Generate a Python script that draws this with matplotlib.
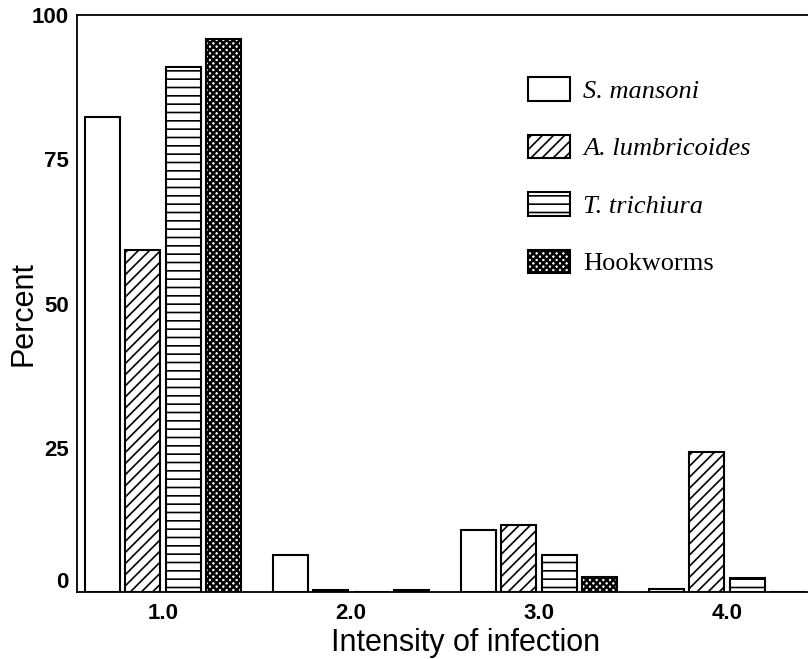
import numpy as np
import matplotlib
matplotlib.use("Agg")
import matplotlib.pyplot as plt
import matplotlib.transforms as mtransforms

# datos
intensidad = [1, 2, 3, 4]
etiquetas_x = ["1.0", "2.0", "3.0", "4.0"]
s_mansoni = [82.3, 6.4, 10.7, 0.6]
a_lumbricoides = [59.3, 0.3, 11.6, 24.3]
t_trichiura = [91.0, 0.0, 6.4, 2.4]
hookworms = [95.8, 0.3, 2.6, 0.0]
especies = ["S. mansoni", "A. lumbricoides", "T. trichiura", "Hookworms"]

plt.rcParams['hatch.color'] = 'black'

fig = plt.figure(figsize=(8.08, 6.59), dpi=100)
ax = fig.add_axes([77/808, 67/659, 731/808, 577/659])

x = np.array(intensidad)
paso = 0.215
ancho = 0.186
series = [s_mansoni, a_lumbricoides, t_trichiura, hookworms]
tramas = ["", "///", "--", "xxxxx"]
grosor_trama = [1.0, 1.2, 1.2, 1.8]
barras = []
for i, (vals, trama) in enumerate(zip(series, tramas)):
    plt.rcParams['hatch.linewidth'] = grosor_trama[i]
    b = ax.bar(x + (i - 1.5) * paso, vals, width=ancho, facecolor="white",
               edgecolor="black", linewidth=1.5, hatch=trama, label=especies[i])
    barras.append(b)

ax.set_xlim(0.543, 4.431)
ax.set_ylim(0, 100)
ax.set_xticks(x)
ax.set_xticklabels(etiquetas_x)
ax.set_yticks([0, 25, 50, 75, 100])
ax.tick_params(length=0, labelsize=16)
ax.tick_params(axis="x", pad=8)
ax.tick_params(axis="y", pad=6)
for t in ax.get_xticklabels() + ax.get_yticklabels():
    t.set_fontweight("bold")
    t.set_family("Liberation Sans")
# el 0 va un poco mas arriba como en el original
desplaza = mtransforms.ScaledTranslation(0, 12/100, fig.dpi_scale_trans)
ax.get_yticklabels()[0].set_transform(ax.get_yticklabels()[0].get_transform() + desplaza)

for s in ["left", "bottom", "top"]:
    ax.spines[s].set_linewidth(1.3)
ax.spines["right"].set_visible(False)

ax.set_xlabel("Intensity of infection", fontsize=22, family="Liberation Sans")
ax.set_ylabel("Percent", fontsize=22, family="Liberation Sans")
ax.xaxis.set_label_coords(0.531, -0.063)
ax.yaxis.set_label_coords(-0.052, 0.4835)

leg = fig.legend(handles=barras, labels=especies, loc="upper left",
                 bbox_to_anchor=(528/808, 1 - 77/659), frameon=False,
                 prop={"family": "Liberation Serif", "style": "italic", "size": 19},
                 handlelength=1.6, handleheight=1.0, labelspacing=1.2,
                 handletextpad=0.5, borderpad=0, borderaxespad=0)
leg.get_texts()[3].set_style("normal")
for h, g in zip(leg.legend_handles, grosor_trama):
    if hasattr(h, "set_hatch_linewidth"):
        h.set_hatch_linewidth(g)

fig.savefig("out.png", dpi=100)
